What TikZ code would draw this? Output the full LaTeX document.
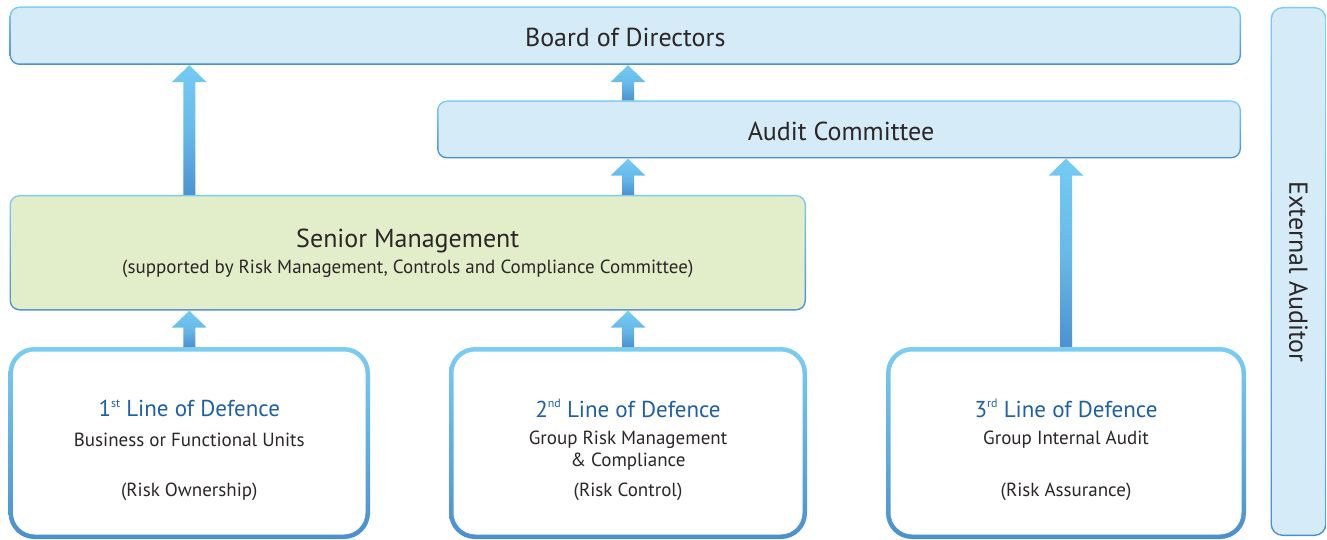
\documentclass[tikz,border=0pt]{standalone}
\usepackage{fontspec}
\setmainfont{PT Sans}
\usetikzlibrary{calc}
\definecolor{boxblue}{HTML}{D5EBF8}
\definecolor{boxgreen}{HTML}{E2EDC9}
\definecolor{bordlight}{HTML}{7CCDF2}
\definecolor{borddark}{HTML}{4A8FCF}
\definecolor{arrlight}{HTML}{74CBF3}
\definecolor{arrdark}{HTML}{4C92D1}
\definecolor{txt}{HTML}{2B2627}
\definecolor{titleblue}{HTML}{1F5FA8}
\newcommand\supx[1]{\raisebox{0.8ex}{\fontsize{12}{12}\selectfont #1}}
\tikzset{
  panel/.style n args={4}{rounded corners=#3, inner sep=0pt, text=txt,
    path picture={
      \shade[top color=bordlight, bottom color=borddark]
        (path picture bounding box.south west) rectangle (path picture bounding box.north east);
      \fill[#1, rounded corners=#4]
        ([shift={(#2,#2)}]path picture bounding box.south west) rectangle
        ([shift={(-#2,-#2)}]path picture bounding box.north east);
    }},
  bigtxt/.style={font=\fontsize{26}{30}\selectfont, text=txt},
  subtxt/.style={font=\fontsize{19}{22}\selectfont, text=txt, align=center},
  ltitle/.style={font=\fontsize{23}{28}\selectfont, text=titleblue},
  arrowshade/.style={top color=arrlight, bottom color=arrdark, middle color=arrlight!70!arrdark},
}
\newcommand\blockarrow[2]{%
  \shade[arrowshade] let \p1=(#1), \p2=(#2) in
    (\x1-6pt,\y1) -- (\x1-6pt,\y2-17pt) -- (\x1-17.5pt,\y2-17pt) -- (\x1,\y2)
    -- (\x1+17.5pt,\y2-17pt) -- (\x1+6pt,\y2-17pt) -- (\x1+6pt,\y1) -- cycle;}
\begin{document}
\begin{tikzpicture}[x=1pt,y=-1pt]
\useasboundingbox[fill=white] (0,0) rectangle (1327,540);

\node[panel={boxblue}{1.5pt}{10pt}{8.5pt}, minimum width=1231.5pt, minimum height=58.5pt]
  (board) at (625.25,35.75) {};
\node[bigtxt] (boardt) at (625.25,37) {Board of Directors};
\node[panel={boxblue}{1.5pt}{10pt}{8.5pt}, minimum width=804pt, minimum height=58pt]
  (audit) at (839,129.5) {};
\node[bigtxt] (auditt) at (841,131.5) {Audit Committee};
\node[panel={boxgreen}{1.5pt}{10pt}{8.5pt}, minimum width=796.5pt, minimum height=115.5pt]
  (sm) at (407.75,252.75) {};
\node[bigtxt] (smt) at (407.75,241) {Senior Management};
\node[subtxt] (sms) at (407.75,268.5) {(supported by Risk Management, Controls and Compliance Committee)};

\node[panel={white}{4.5pt}{26pt}{22pt}, minimum width=361.5pt, minimum height=192pt]
  (l1) at (189.25,443) {};
\node[panel={white}{4.5pt}{26pt}{22pt}, minimum width=358pt, minimum height=192pt]
  (l2) at (628,443) {};
\node[panel={white}{4.5pt}{26pt}{22pt}, minimum width=360pt, minimum height=192pt]
  (l3) at (1066,443) {};
\node[panel={boxblue}{1.5pt}{12pt}{10.5pt}, minimum width=56pt, minimum height=529pt]
  (ext) at (1298.5,271.5) {};
\node[bigtxt, rotate=-90] (extt) at (1298.5,272) {External Auditor};

\node[ltitle] (l1t) at (189.25,408.5) {1\supx{st} Line of Defence};
\node[subtxt] (l1a) at (189.25,439.5) {Business or Functional Units};
\node[subtxt] (l1r) at (189.25,491.5) {(Risk Ownership)};

\node[ltitle] (l2t) at (628,408.5) {2\supx{nd} Line of Defence};
\node[subtxt] (l2a) at (628,450.5) {Group Risk Management\\\& Compliance};
\node[subtxt] (l2r) at (628,491.5) {(Risk Control)};

\node[ltitle] (l3t) at (1066,408.5) {3\supx{rd} Line of Defence};
\node[subtxt] (l3a) at (1066,439.5) {Group Internal Audit};
\node[subtxt] (l3r) at (1066,491.5) {(Risk Assurance)};

\blockarrow{l1.north |- sm.north}{l1.north |- board.south}
\blockarrow{l2.north |- audit.north}{l2.north |- board.south}
\blockarrow{l2.north |- sm.north}{l2.north |- audit.south}
\blockarrow{l1.north}{l1.north |- sm.south}
\blockarrow{l2.north}{l2.north |- sm.south}
\blockarrow{l3.north}{l3.north |- audit.south}
\end{tikzpicture}
\end{document}
